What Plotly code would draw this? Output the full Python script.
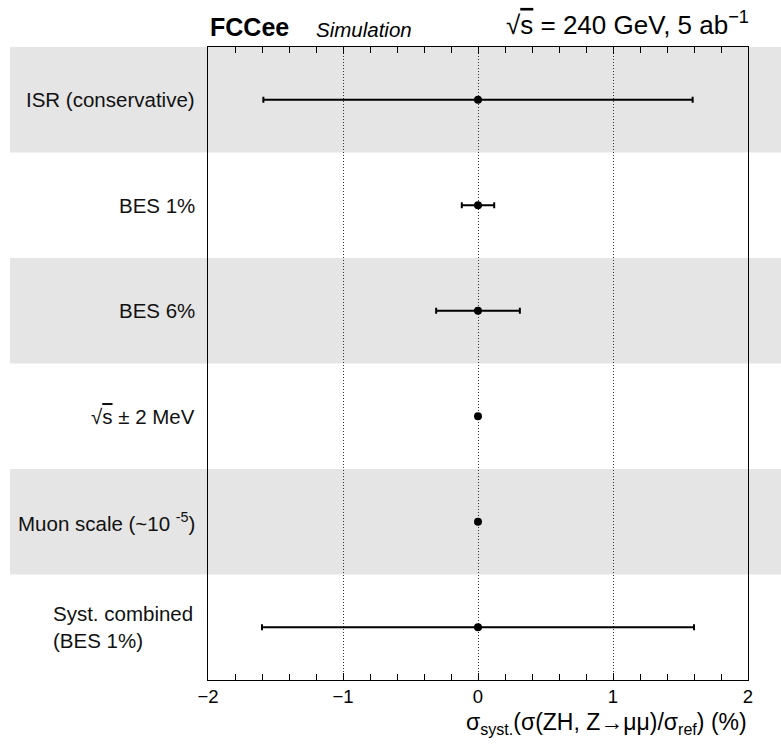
import plotly.graph_objects as go

categories = ["ISR (conservative)", "BES 1%", "BES 6%",
              "√<span style='text-decoration:overline'>s</span> ± 2 MeV",
              "Muon scale (~10 <sup>-5</sup>)",
              "Syst. combined<br>(BES 1%)"]
centers = [0.0, 0.0, 0.0, 0.0, 0.0, 0.0]
errors = [1.59, 0.12, 0.31, 0.0, 0.0, 1.60]
x_ticks = [-2, -1, 0, 1, 2]
x_ticklabels = ["−2", "−1", "0", "1", "2"]

n = len(categories)
ypos = [n - 0.5 - i for i in range(n)]

W, H = 781, 749
L, R, T, B = 208, 33, 47, 69
pw = W - L - R
ph = H - T - B


def py(pix):
    return (H - B - pix) / ph


def px(pix):
    return (pix - L) / pw


fig = go.Figure()
fig.add_trace(go.Scatter(
    x=centers, y=ypos, mode="markers",
    marker=dict(color="black", size=8, symbol="circle"),
    error_x=dict(type="data", array=errors, symmetric=True,
                 color="black", thickness=2, width=3),
    showlegend=False, cliponaxis=False))

shapes = []
for i in range(n):
    if i % 2 == 0:
        shapes.append(dict(type="rect", layer="below", xref="paper", yref="y",
                           x0=px(10), x1=px(W + 5),
                           y0=ypos[i] - 0.5, y1=ypos[i] + 0.5,
                           fillcolor="#e5e5e5", line=dict(width=0)))

font = "Liberation Sans, Arial, sans-serif"
ann = []
for i, lab in enumerate(categories):
    multi = "<br>" in lab
    ann.append(dict(text=lab, xref="paper", yref="y",
                    x=px(197) if not multi else px(51),
                    xanchor="right" if not multi else "left",
                    align="left" if multi else "right",
                    y=ypos[i], yanchor="middle", showarrow=False,
                    font=dict(family=font, size=20.5, color="#111111")))

ann.append(dict(text="<b>FCCee</b>", xref="paper", yref="paper",
                x=px(208), xanchor="left", y=py(27), yanchor="middle",
                showarrow=False, font=dict(family=font, size=25, color="black")))
ann.append(dict(text="<i>Simulation</i>", xref="paper", yref="paper",
                x=px(314), xanchor="left", y=py(30), yanchor="middle",
                showarrow=False, font=dict(family=font, size=20.5, color="black")))
ann.append(dict(text="√<span style='text-decoration:overline'>s</span> = 240 GeV, 5 ab<sup>−1</sup>",
                xref="paper", yref="paper",
                x=px(751), xanchor="right", y=py(23), yanchor="middle",
                showarrow=False, font=dict(family=font, size=26, color="black")))
ann.append(dict(text="σ<sub>syst.</sub>(σ(ZH, Z→μμ)/σ<sub>ref</sub>) (%)",
                xref="paper", yref="paper",
                x=px(749), xanchor="right", y=py(724), yanchor="middle",
                showarrow=False, font=dict(family=font, size=23, color="black")))

fig.update_layout(
    width=W, height=H,
    margin=dict(l=L, r=R, t=T, b=B, pad=0),
    paper_bgcolor="white", plot_bgcolor="rgba(0,0,0,0)",
    shapes=shapes, annotations=ann,
    xaxis=dict(range=[-2, 2], tickvals=x_ticks, ticktext=x_ticklabels,
               showline=True, linecolor="black", linewidth=1, mirror="ticks",
               ticks="inside", ticklen=7, tickcolor="black", tickwidth=1,
               showgrid=True, griddash="1px,2px", gridcolor="#333333", gridwidth=1,
               zeroline=False,
               minor=dict(dtick=0.2, ticks="inside", ticklen=6, tickcolor="black",
                          showgrid=False),
               tickfont=dict(family=font, size=18.5, color="black")),
    yaxis=dict(range=[0, n], showline=True, linecolor="black", linewidth=1, mirror=True,
               showticklabels=False, ticks="", showgrid=False, zeroline=False,
               fixedrange=True),
)

fig.write_html("out.html")
